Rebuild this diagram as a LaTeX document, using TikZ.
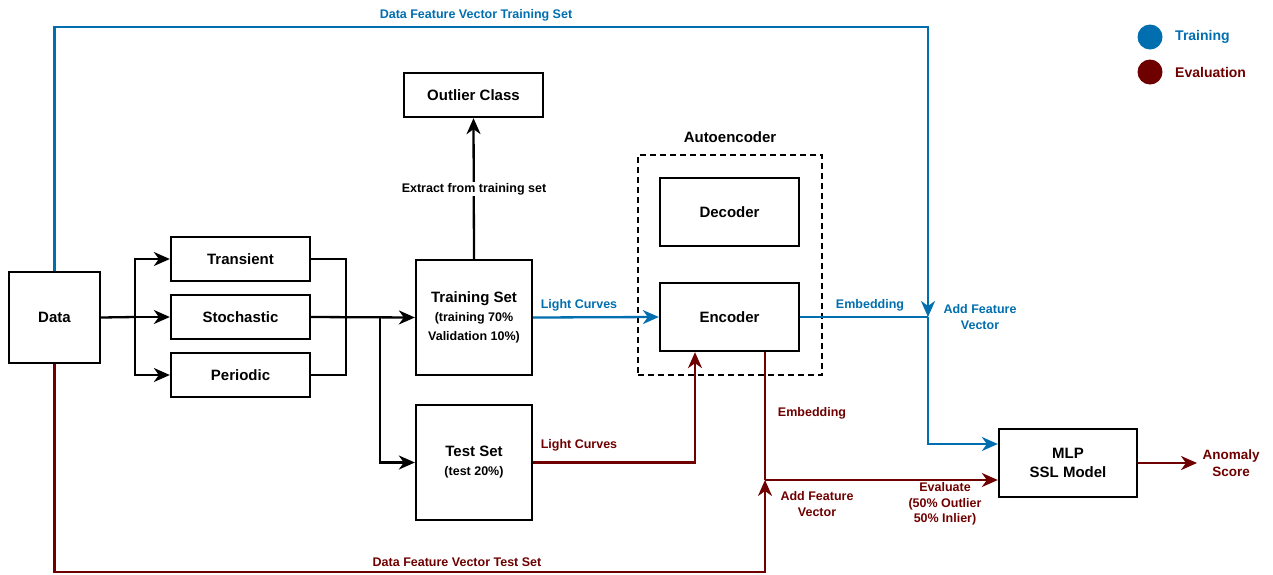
\documentclass[tikz,border=0pt]{standalone}
\usepackage{fontspec}
\setmainfont{Liberation Sans}
\usetikzlibrary{arrows.meta,calc}
\definecolor{tblue}{HTML}{006EAF}
\definecolor{ered}{HTML}{6F0000}
\newcommand{\subfont}{\fontsize{12.5}{18}\selectfont}

\begin{document}
\begin{tikzpicture}[x=1pt,y=-1pt,
  box/.style={draw, line width=2.3pt, font=\bfseries\fontsize{15}{19}\selectfont, align=center, inner sep=0pt},
  lbl/.style={font=\bfseries\fontsize{12.5}{15.5}\selectfont, align=center, inner sep=1pt},
  leg/.style={font=\bfseries\fontsize{14}{17}\selectfont, anchor=west, inner sep=0pt},
  ln/.style={line width=2.3pt},
  arr/.style={line width=2.3pt, -{Stealth[length=16pt,width=14pt,inset=5pt]}}
]
\useasboundingbox (0,0) rectangle (1273,574);

% boxes
\node[box, minimum width=91pt, minimum height=91pt] (data) at (54.5,317.5) {Data};
\node[box, minimum width=139pt, minimum height=44pt] (trans) at (240.5,259) {Transient};
\node[box, minimum width=139pt, minimum height=44pt] (stoch) at (240.5,317) {Stochastic};
\node[box, minimum width=139pt, minimum height=44pt] (period) at (240.5,375) {Periodic};
\node[box, minimum width=116pt, minimum height=115pt] (train) at (474,317.5)
  {Training Set\\ \subfont (training 70\%\\ \subfont Validation 10\%)};
\node[box, minimum width=116pt, minimum height=115pt] (test) at (474,462.5)
  {Test Set\\ \subfont (test 20\%)};
\node[box, minimum width=139pt, minimum height=44pt] (outlier) at (473.5,95) {Outlier Class};
\node[draw, line width=2.3pt, dash pattern=on 6pt off 4pt, minimum width=184pt, minimum height=220pt] (ae) at (730,265) {};
\node[font=\bfseries\fontsize{15}{18}\selectfont] (aelbl) at (730,137) {Autoencoder};
\node[box, minimum width=139pt, minimum height=68pt] (dec) at (729.5,212) {Decoder};
\node[box, minimum width=139pt, minimum height=68pt] (enc) at (729.5,317) {Encoder};
\node[box, minimum width=138pt, minimum height=68pt] (mlp) at (1068,463) {MLP\\SSL Model};

% legend
\node[circle, fill=tblue, minimum size=25pt, inner sep=0pt] (legt) at (1150,37) {};
\node[leg, text=tblue] (legtl) at (1175,37) {Training};
\node[circle, fill=ered, minimum size=25pt, inner sep=0pt] (lege) at (1150,72) {};
\node[leg, text=ered] (legel) at (1175,72) {Evaluation};

% helper points
\coordinate (sp) at (135,317);
\coordinate (mg) at (346,317);
\coordinate (tb) at (380,317);
\coordinate (jb) at (928,317);
\coordinate (tc) at (928,27);
\coordinate (jr) at (765,480);
\coordinate (bc) at (765,572);
\coordinate (ao) at (1197,463);

% class split and merge
\draw[ln] (data.east) -- (sp);
\draw[arr] (sp) |- (trans.west);
\draw[arr] (sp) -- (stoch.west);
\draw[arr] (sp) |- (period.west);
\draw[ln] (trans.east) -| (mg);
\draw[ln] (period.east) -| (mg);
\draw[arr] (stoch.east) -- (train.west);
\draw[arr] (tb) |- (test.west);

% outlier extraction
\draw[arr] (train.north) -- (outlier.south);
\node[lbl, fill=white] (extr) at (474,189) {Extract from training set};

% training path
\draw[arr, tblue] (train.east) -- (enc.west);
\draw[ln, tblue] (enc.east) -- (jb);
\draw[arr, tblue] (data.north) |- (tc) -- (jb);
\draw[arr, tblue] (jb) |- ([yshift=19pt]mlp.west);

% evaluation path
\draw[arr, ered] (test.east) -| ([xshift=-34.5pt]enc.south);
\draw[ln, ered] (enc.south -| jr) -- (jr);
\draw[arr, ered] (data.south) |- (bc) -- (jr);
\draw[arr, ered] (jr) -- ([yshift=-17pt]mlp.west);
\draw[arr, ered] (mlp.east) -- (ao);

% labels
\node[lbl, text=tblue] (l1) at (476,15) {Data Feature Vector Training Set};
\node[lbl, text=tblue] (l2) at (579,305) {Light Curves};
\node[lbl, text=ered] (l3) at (579,445) {Light Curves};
\node[lbl, text=tblue] (l4) at (870,305) {Embedding};
\node[lbl, text=tblue] (l5) at (980,317) {Add Feature\\Vector};
\node[lbl, text=ered] (l6) at (812,413) {Embedding};
\node[lbl, text=ered] (l7) at (817,504) {Add Feature\\Vector};
\node[lbl, text=ered] (l8) at (945,504) {Evaluate\\(50\% Outlier\\50\% Inlier)};
\node[lbl, text=ered] (l9) at (457,562) {Data Feature Vector Test Set};
\node[lbl, text=ered, font=\bfseries\fontsize{13.5}{17}\selectfont] (l10) at (1231,463) {Anomaly\\Score};
\end{tikzpicture}
\end{document}
